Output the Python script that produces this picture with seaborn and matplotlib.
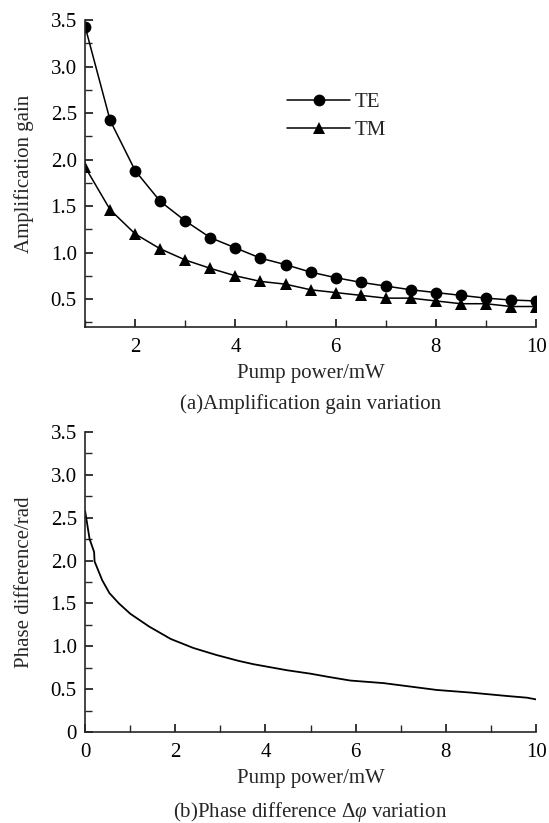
import numpy as np
import pandas as pd
import matplotlib
matplotlib.use("Agg")
import matplotlib.pyplot as plt
from matplotlib.ticker import MultipleLocator, FuncFormatter
import seaborn as sns

# Amplification gain vs pump power
pump_gain = [1.0, 1.5, 2.0, 2.5, 3.0, 3.5, 4.0, 4.5, 5.0, 5.5,
             6.0, 6.5, 7.0, 7.5, 8.0, 8.5, 9.0, 9.5, 10.0]
gain_te = [3.43, 2.42, 1.88, 1.55, 1.34, 1.16, 1.05, 0.94, 0.87, 0.79,
           0.73, 0.68, 0.64, 0.60, 0.57, 0.54, 0.51, 0.49, 0.48]
gain_tm = [1.92, 1.46, 1.20, 1.04, 0.92, 0.83, 0.75, 0.69, 0.66, 0.60,
           0.57, 0.54, 0.51, 0.51, 0.48, 0.45, 0.45, 0.42, 0.42]

# Phase difference vs pump power
pump_phase = [0.0, 0.1, 0.2, 0.21, 0.38, 0.54, 0.75, 1.0, 1.42, 1.9,
              2.4, 2.9, 3.4, 3.74, 4.48, 5.0, 5.37, 5.88, 6.62, 7.21,
              7.8, 8.54, 9.35, 9.8, 10.0]
phase_diff = [2.58, 2.25, 2.10, 1.99, 1.77, 1.62, 1.50, 1.38, 1.23, 1.085,
              0.98, 0.90, 0.83, 0.79, 0.72, 0.68, 0.645, 0.60, 0.57, 0.53,
              0.49, 0.46, 0.42, 0.40, 0.38]

sns.set_theme(style="ticks")
plt.rcParams["font.family"] = ["Liberation Serif", "DejaVu Serif"]
plt.rcParams["mathtext.fontset"] = "custom"
plt.rcParams["mathtext.it"] = "Liberation Serif:italic"
plt.rcParams["mathtext.rm"] = "Liberation Serif"
FS = 15

fig = plt.figure(figsize=(5.49, 8.23), dpi=100)
ax1 = fig.add_axes([0.155, 0.6027, 0.8215, 0.373])
ax2 = fig.add_axes([0.155, 0.1106, 0.8215, 0.3645])

df_gain = pd.DataFrame({
    "pump": pump_gain * 2,
    "gain": gain_te + gain_tm,
    "mode": ["TE"] * len(pump_gain) + ["TM"] * len(pump_gain),
})
sns.lineplot(data=df_gain, x="pump", y="gain", style="mode", hue="mode",
             palette={"TE": "black", "TM": "black"},
             markers={"TE": "o", "TM": "^"}, dashes=False,
             markersize=8.5, markeredgewidth=0, linewidth=1.1, ax=ax1)

df_phase = pd.DataFrame({"pump": pump_phase, "phase": phase_diff})
sns.lineplot(data=df_phase, x="pump", y="phase", color="black",
             linewidth=1.3, sort=False, ax=ax2)

def fmt(v, _):
    return "0" if abs(v) < 1e-9 else f"{v:.1f}"

for ax in (ax1, ax2):
    sns.despine(ax=ax)
    ax.spines["left"].set_linewidth(1.2)
    ax.spines["bottom"].set_linewidth(1.2)
    ax.xaxis.set_major_locator(MultipleLocator(2))
    ax.xaxis.set_minor_locator(MultipleLocator(1))
    ax.yaxis.set_major_locator(MultipleLocator(0.5))
    ax.yaxis.set_minor_locator(MultipleLocator(0.25))
    ax.yaxis.set_major_formatter(FuncFormatter(fmt))
    ax.tick_params(which="major", direction="in", length=6, width=1.1,
                   labelsize=FS, colors="black", pad=6)
    ax.tick_params(axis="x", which="major", pad=8)
    ax.tick_params(which="minor", direction="in", length=5, width=1.0)
    ax.set_xlabel("Pump power/mW", fontsize=FS, labelpad=5)
    ax.grid(False)

ax1.set_xlim(1, 10)
ax1.set_ylim(0.2, 3.5)
ax1.set_ylabel("Amplification gain", fontsize=FS, labelpad=12)
ax2.set_xlim(0, 10)
ax2.set_ylim(0, 3.5)
ax2.set_ylabel("Phase difference/rad", fontsize=FS, labelpad=12)

ax1.legend(loc="upper left", bbox_to_anchor=(0.43, 0.79), frameon=False,
           fontsize=FS, handlelength=3.0, handletextpad=0.25,
           labelspacing=0.4, borderaxespad=0)

fig.text(0.565, 0.509, "(a)Amplification gain variation", ha="center",
         va="center", fontsize=FS)
fig.text(0.565, 0.0134, r"(b)Phase difference $\Delta\varphi$ variation",
         ha="center", va="center", fontsize=FS)

fig.savefig("out.png", dpi=100)
